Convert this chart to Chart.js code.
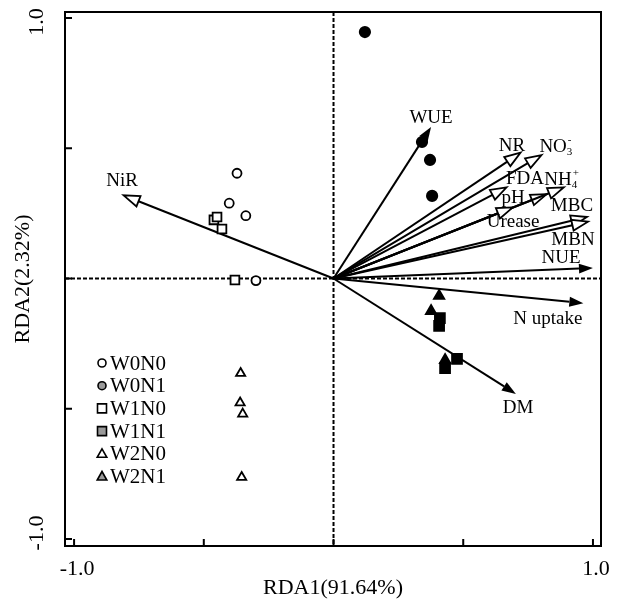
<!DOCTYPE html>
<html><head><meta charset="utf-8">
<script src="https://cdn.jsdelivr.net/npm/chart.js@4.4.0/dist/chart.umd.min.js"></script>
<style>html,body{margin:0;padding:0;background:#fff}#wrap{width:622px;height:600px}</style>
</head><body><div id="wrap"><canvas id="c" width="622" height="600"></canvas></div>
<script>
// ---------- data ----------
const groups = ['W0N0','W0N1','W1N0','W1N1','W2N0','W2N1'];
const W0N0_x = [-0.372, -0.402, -0.338, -0.299];
const W0N0_y = [0.404, 0.289, 0.241, -0.008];
const W0N1_x = [0.121, 0.341, 0.372, 0.380];
const W0N1_y = [0.946, 0.524, 0.455, 0.317];
const W1N0_x = [-0.461, -0.449, -0.430, -0.380];
const W1N0_y = [0.225, 0.236, 0.190, -0.006];
const W1N1_x = [0.410, 0.407, 0.476, 0.430];
const W1N1_y = [-0.152, -0.182, -0.309, -0.344];
const W2N0_x = [-0.358, -0.360, -0.350, -0.354];
const W2N0_y = [-0.364, -0.477, -0.520, -0.763];
const W2N1_x = [0.407, 0.376, 0.430];
const W2N1_y = [-0.067, -0.125, -0.313];

const varNames = ['WUE','NR','NO3-','FDA','Urease','NH4+','pH','MBC','MBN','NUE','N uptake','DM','NiR'];
const varX = [0.376, 0.721, 0.802, 0.667, 0.822, 0.888, 0.691, 0.977, 0.981, 1.000, 0.963, 0.703, -0.809];
const varY = [0.582, 0.483, 0.474, 0.350, 0.324, 0.350, 0.273, 0.236, 0.218, 0.040, -0.095, -0.443, 0.319];
const labelX = [0.376, 0.688, 0.857, 0.738, 0.692, 0.877, 0.692, 0.919, 0.923, 0.877, 0.826, 0.711, -0.815];
const labelY = [0.616, 0.509, 0.505, 0.382, 0.217, 0.378, 0.309, 0.278, 0.148, 0.079, -0.155, -0.497, 0.374];

const xTicks = [-1, -0.5, 0, 0.5, 1];
const yTicks = [-1, -0.5, 0, 0.5, 1];
const xTickLabels = ['-1.0', '1.0'];
const xTickLabelValues = [-1, 1];
const yTickLabels = ['-1.0', '1.0'];
const yTickLabelValues = [-1, 1];
const xTitle = 'RDA1(91.64%)';
const yTitle = 'RDA2(2.32%)';

// ---------- styles ----------
const openHead = [false, true, true, true, true, true, true, true, true, false, false, false, true];
const FONT = "'Liberation Serif','Times New Roman',serif";
const groupStyle = {
  W0N0: {pointStyle:'circle', radius:4.5, bg:'#fff', border:'#000', legendBg:'#fff'},
  W0N1: {pointStyle:'circle', radius:5.2, bg:'#000', border:'#000', legendBg:'#9a9a9a'},
  W1N0: {pointStyle:'rect', radius:6.2, bg:'#fff', border:'#000', legendBg:'#fff'},
  W1N1: {pointStyle:'rect', radius:7, bg:'#000', border:'#000', legendBg:'#9a9a9a'},
  W2N0: {pointStyle:'triangle', radius:5.3, bg:'#fff', border:'#000', legendBg:'#fff'},
  W2N1: {pointStyle:'triangle', radius:6, bg:'#000', border:'#000', legendBg:'#9a9a9a'}
};
const groupData = {W0N0:[W0N0_x,W0N0_y], W0N1:[W0N1_x,W0N1_y], W1N0:[W1N0_x,W1N0_y],
                   W1N1:[W1N1_x,W1N1_y], W2N0:[W2N0_x,W2N0_y], W2N1:[W2N1_x,W2N1_y]};

const datasets = groups.map(g => {
  const [xs, ys] = groupData[g];
  const s = groupStyle[g];
  return {
    label: g,
    data: xs.map((x, i) => ({x, y: ys[i]})),
    pointStyle: s.pointStyle,
    pointRadius: s.radius,
    pointBackgroundColor: s.bg,
    pointBorderColor: s.border,
    pointBorderWidth: 1.8,
    showLine: false
  };
});

function drawArrow(ctx, x0, y0, x1, y1, open) {
  const ang = Math.atan2(y1 - y0, x1 - x0);
  const L = open ? 16 : 14, W = open ? 5.5 : 5;
  const bx = x1 - L * Math.cos(ang), by = y1 - L * Math.sin(ang);
  ctx.setLineDash([]);
  ctx.strokeStyle = '#000';
  ctx.lineWidth = 2;
  ctx.beginPath(); ctx.moveTo(x0, y0); ctx.lineTo(bx, by); ctx.stroke();
  ctx.beginPath();
  ctx.moveTo(x1, y1);
  ctx.lineTo(bx + W * Math.sin(ang), by - W * Math.cos(ang));
  ctx.lineTo(bx - W * Math.sin(ang), by + W * Math.cos(ang));
  ctx.closePath();
  if (open) { ctx.fillStyle = '#fff'; ctx.fill(); ctx.lineWidth = 1.8; ctx.stroke(); }
  else { ctx.fillStyle = '#000'; ctx.fill(); }
}

function drawLabel(ctx, name, cx, cy) {
  ctx.fillStyle = '#000';
  ctx.textBaseline = 'middle';
  let main = name, sub = null, sup = null;
  if (name === 'NO3-') { main = 'NO'; sub = '3'; sup = '-'; }
  if (name === 'NH4+') { main = 'NH'; sub = '4'; sup = '+'; }
  ctx.font = '19px ' + FONT;
  const mw = ctx.measureText(main).width;
  if (!sub) { ctx.textAlign = 'center'; ctx.fillText(main, cx, cy); return; }
  ctx.font = '11px ' + FONT;
  const sw = Math.max(ctx.measureText(sub).width, ctx.measureText(sup).width);
  const x0 = cx - (mw + sw) / 2;
  ctx.textAlign = 'left';
  ctx.font = '19px ' + FONT;
  ctx.fillText(main, x0, cy);
  ctx.font = '11px ' + FONT;
  ctx.fillText(sub, x0 + mw, cy + 5);
  ctx.fillText(sup, x0 + mw + 1, cy - 7);
}

function legendMarker(ctx, style, x, y, bg) {
  ctx.setLineDash([]);
  ctx.lineWidth = 1.6;
  ctx.strokeStyle = '#000';
  ctx.fillStyle = bg;
  ctx.beginPath();
  if (style === 'circle') ctx.arc(x, y, 4, 0, Math.PI * 2);
  else if (style === 'rect') ctx.rect(x - 4.5, y - 4.5, 9, 9);
  else { ctx.moveTo(x, y - 5); ctx.lineTo(x + 4.8, y + 3.5); ctx.lineTo(x - 4.8, y + 3.5); ctx.closePath(); }
  ctx.fill(); ctx.stroke();
}

const rdaPlugin = {
  id: 'rda',
  beforeDatasetsDraw(chart) {
    const {ctx, chartArea: a, scales: {x, y}} = chart;
    ctx.save();
    ctx.strokeStyle = '#000'; ctx.lineWidth = 2; ctx.setLineDash([4, 2]);
    const x0 = x.getPixelForValue(0), y0 = y.getPixelForValue(0);
    ctx.beginPath(); ctx.moveTo(a.left, y0); ctx.lineTo(a.right, y0); ctx.stroke();
    ctx.beginPath(); ctx.moveTo(x0, a.top); ctx.lineTo(x0, a.bottom); ctx.stroke();
    varNames.forEach((n, i) => {
      drawArrow(ctx, x0, y0, x.getPixelForValue(varX[i]), y.getPixelForValue(varY[i]), openHead[i]);
    });
    varNames.forEach((n, i) => {
      drawLabel(ctx, n, x.getPixelForValue(labelX[i]), y.getPixelForValue(labelY[i]));
    });
    ctx.restore();
  },
  afterDraw(chart) {
    const {ctx, chartArea: a, scales: {x, y}} = chart;
    ctx.save();
    ctx.setLineDash([]);
    ctx.strokeStyle = '#000'; ctx.lineWidth = 2;
    ctx.strokeRect(a.left, a.top, a.right - a.left, a.bottom - a.top);
    ctx.beginPath();
    xTicks.forEach(v => { const px = x.getPixelForValue(v); ctx.moveTo(px, a.bottom); ctx.lineTo(px, a.bottom - 7); });
    yTicks.forEach(v => { const py = y.getPixelForValue(v); ctx.moveTo(a.left, py); ctx.lineTo(a.left + 7, py); });
    ctx.stroke();
    ctx.fillStyle = '#000';
    ctx.font = '22px ' + FONT;
    ctx.textAlign = 'center'; ctx.textBaseline = 'middle';
    xTickLabelValues.forEach((v, i) => ctx.fillText(xTickLabels[i], x.getPixelForValue(v) + 3, a.bottom + 23));
    yTickLabelValues.forEach((v, i) => {
      ctx.save();
      ctx.translate(a.left - 28, y.getPixelForValue(v) - (v > 0 ? -4 : 6));
      ctx.rotate(-Math.PI / 2);
      ctx.fillText(yTickLabels[i], 0, 0);
      ctx.restore();
    });
    ctx.fillText(xTitle, (a.left + a.right) / 2, a.bottom + 42);
    ctx.save();
    ctx.translate(a.left - 42, (a.top + a.bottom) / 2);
    ctx.rotate(-Math.PI / 2);
    ctx.fillText(yTitle, 0, 0);
    ctx.restore();
    const lx = 102, ly = 363, dy = 22.7;
    groups.forEach((g, i) => {
      const s = groupStyle[g];
      legendMarker(ctx, s.pointStyle, lx, ly + i * dy, s.legendBg);
      ctx.fillStyle = '#000';
      ctx.font = '21px ' + FONT;
      ctx.textAlign = 'left'; ctx.textBaseline = 'middle';
      ctx.fillText(g, lx + 8, ly + i * dy + 1);
    });
    ctx.restore();
  }
};

new Chart(document.getElementById('c'), {
  type: 'scatter',
  data: { datasets },
  options: {
    responsive: false,
    animation: false,
    devicePixelRatio: 1,
    layout: { padding: { left: 65, right: 21, top: 12, bottom: 54 } },
    plugins: { legend: { display: false }, tooltip: { enabled: false } },
    scales: {
      x: { type: 'linear', min: -1.035, max: 1.031, display: false },
      y: { type: 'linear', min: -1.027, max: 1.023, display: false }
    }
  },
  plugins: [rdaPlugin]
});
</script>
</body></html>
